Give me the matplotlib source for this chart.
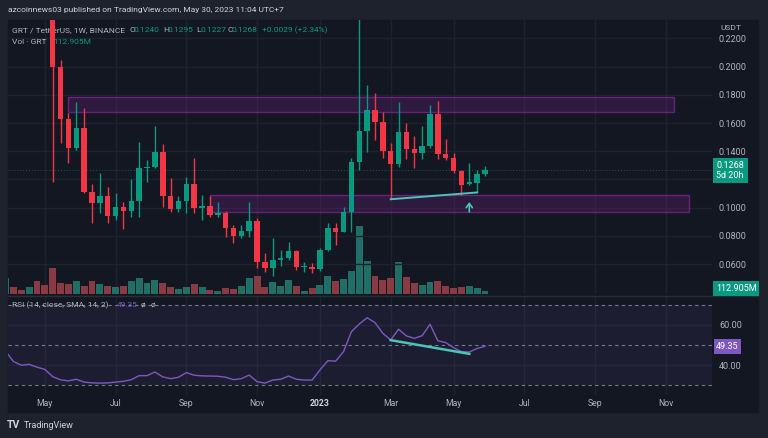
import numpy as np
import pandas as pd
import matplotlib
matplotlib.use("Agg")
import matplotlib.pyplot as plt
from matplotlib.patches import Rectangle
from matplotlib.lines import Line2D
import matplotlib.transforms as mtrans

plt.rcParams['font.family'] = ['Roboto', 'DejaVu Sans']

# ---- data (GRT/USDT weekly) ----
weeks = pd.date_range('2022-03-28', periods=62, freq='7D')

opens = [0.430, 0.452, 0.405, 0.372, 0.392, 0.315,
         0.272, 0.200, 0.163, 0.1426, 0.1563, 0.1113, 0.1031, 0.1083, 0.0943, 0.1003,
         0.0977, 0.1047, 0.1280, 0.1288, 0.1395, 0.1085, 0.0993, 0.1045, 0.1168, 0.1000,
         0.1014, 0.0946, 0.0962, 0.0858, 0.0801, 0.0837, 0.0906, 0.0615, 0.0570, 0.0629,
         0.0645, 0.0695, 0.0577, 0.0580, 0.0565, 0.0700, 0.0854, 0.0830, 0.0967, 0.1326,
         0.1544, 0.1693, 0.1606, 0.1404, 0.1310, 0.1539, 0.1416, 0.1386, 0.1438, 0.1665,
         0.1381, 0.1355, 0.1262, 0.1168, 0.1176, 0.1240]
closes = [0.452, 0.405, 0.372, 0.392, 0.315, 0.272,
          0.200, 0.163, 0.1426, 0.1563, 0.1113, 0.1031, 0.1083, 0.0943, 0.1003, 0.0977,
          0.1047, 0.1280, 0.1288, 0.1395, 0.1085, 0.0993, 0.1045, 0.1168, 0.1000, 0.1014,
          0.0946, 0.0962, 0.0858, 0.0801, 0.0837, 0.0906, 0.0615, 0.0570, 0.0629, 0.0645,
          0.0695, 0.0577, 0.0586, 0.0565, 0.0700, 0.0854, 0.0830, 0.0967, 0.1326, 0.1544,
          0.1693, 0.1606, 0.1404, 0.1310, 0.1539, 0.1416, 0.1386, 0.1438, 0.1665, 0.1381,
          0.1355, 0.1262, 0.1163, 0.1180, 0.1239, 0.1268]
highs = [0.470, 0.460, 0.420, 0.400, 0.400, 0.330,
         0.285, 0.2047, 0.167, 0.1752, 0.1707, 0.1168, 0.1246, 0.1149, 0.1106, 0.1043,
         0.1201, 0.1464, 0.1338, 0.1580, 0.1450, 0.1213, 0.1083, 0.1220, 0.1350, 0.1090,
         0.1083, 0.1038, 0.0980, 0.0877, 0.0877, 0.1043, 0.0925, 0.0679, 0.0783, 0.0700,
         0.0759, 0.0702, 0.0617, 0.0605, 0.0712, 0.0889, 0.0889, 0.1007, 0.1350, 0.2450,
         0.1870, 0.1811, 0.1680, 0.1457, 0.1752, 0.1600, 0.1509, 0.1580, 0.1728, 0.1759,
         0.1485, 0.1390, 0.1270, 0.1319, 0.1267, 0.1295]
lows = [0.420, 0.395, 0.360, 0.365, 0.300, 0.262,
        0.1184, 0.1460, 0.1315, 0.1410, 0.1105, 0.0894, 0.0965, 0.0894, 0.0913, 0.0849,
        0.0936, 0.0935, 0.1180, 0.1280, 0.1007, 0.0970, 0.0970, 0.0962, 0.0960, 0.0913,
        0.0935, 0.0935, 0.0794, 0.0752, 0.0785, 0.0794, 0.0570, 0.0546, 0.0516, 0.0589,
        0.0630, 0.0558, 0.0546, 0.0539, 0.0553, 0.0690, 0.0735, 0.0830, 0.0830, 0.1267,
        0.1397, 0.1480, 0.1350, 0.1060, 0.1290, 0.1343, 0.1280, 0.1343, 0.1420, 0.1343,
        0.1340, 0.1245, 0.1088, 0.1160, 0.1113, 0.1227]
volume_m = [600, 250, 150, 275, 500, 350,
            965, 425, 385, 500, 310, 500, 375, 310, 250, 310,
            475, 590, 400, 540, 415, 275, 190, 275, 375, 275,
            160, 125, 215, 190, 310, 600, 660, 250, 440, 310,
            525, 310, 125, 215, 340, 690, 500, 555, 855, 2570,
            1250, 690, 525, 600, 1190, 650, 400, 350, 465, 500,
            310, 215, 250, 310, 215, 112.905]
rsi = [47.0, 41.8, 40.0, 40.4, 39.0, 37.9,
       34.3, 32.7, 32.2, 33.0, 31.6, 31.2, 31.1, 31.2, 31.6, 32.0,
       32.8, 34.8, 34.8, 36.6, 34.2, 33.3, 34.0, 36.3, 35.0, 34.7,
       34.6, 34.5, 34.0, 32.8, 33.3, 35.1, 31.8, 31.1, 32.6, 33.0,
       34.6, 33.0, 32.6, 32.6, 37.6, 42.2, 42.0, 46.7, 56.6, 60.4,
       63.5, 61.1, 55.8, 52.5, 57.8, 54.5, 53.3, 54.6, 60.3, 52.1,
       51.2, 48.7, 46.7, 46.5, 48.3, 49.35]

month_starts = ['2022-05', '2022-07', '2022-09', '2022-11', '2023-01',
                '2023-03', '2023-05', '2023-07', '2023-09', '2023-11']
month_labels = ['May', 'Jul', 'Sep', 'Nov', '2023', 'Mar', 'May', 'Jul', 'Sep', 'Nov']
price_ticks = [0.06, 0.08, 0.10, 0.12, 0.14, 0.16, 0.18, 0.20, 0.22]
hidden_ticks = [0.12]  # covered by the last-price badge
rsi_ticks = [40, 60]

# drawn zones (week index from, week index to, low, high)
zone_top = (8, 85, 0.1681, 0.1783)
zone_bottom = (26, 87, 0.0972, 0.1087)
price_trend = ([49, 60], [0.1060, 0.1108])
rsi_trend = ([49, 59], [52.4, 45.6])

BG = '#131722'
OUTER = '#1e222d'
UP = '#089981'
DOWN = '#f23645'
TXT = '#b2b5be'
GRID = '#1e222d'
PURPLE = '#7e57c2'
TREND = '#4cc4b8'

W, H = 768, 438


def P(x, y):
    return x / W, 1 - y / H


def rect(x0, y0, x1, y1):
    return [x0 / W, 1 - y1 / H, (x1 - x0) / W, (y1 - y0) / H]


o = np.array(opens); c = np.array(closes)
hi = np.array(highs); lo = np.array(lows)
x = np.arange(len(o))
up = c >= o
col = np.where(up, UP, DOWN)
vcol = np.where(up, '#1f6f66', '#8a3a42')

tick_pos = []
for s in month_starts:
    d = pd.Timestamp(s + '-01')
    d = d + pd.Timedelta(days=(7 - d.weekday()) % 7)
    tick_pos.append((d - weeks[0]).days / 7)

fig = plt.figure(figsize=(7.68, 4.38), dpi=100, facecolor=OUTER)
fig.patches.append(Rectangle((8 / W, 1 - 412 / H), 750 / W, 392 / H,
                             transform=fig.transFigure, color=BG, zorder=-10))

xlim = (0.31, 89.88)

# volume pane (behind price)
axv = fig.add_axes(rect(8, 20, 712, 294))
axv.patch.set_visible(False)
axv.bar(x, volume_m, width=0.88, color=vcol, zorder=2)
axv.set_ylim(0, 274 * 37.6)
axv.set_xlim(*xlim)
for t in tick_pos:
    axv.axvline(t, color=GRID, lw=1, zorder=0)
axv.axis('off')

# price pane
ax = fig.add_axes(rect(8, 20, 712, 294), sharex=axv)
ax.patch.set_visible(False)
for t in price_ticks:
    ax.axhline(t, color=GRID, lw=1, zorder=0)
ax.vlines(x, lo, hi, color=col, lw=1, zorder=3)
body = np.maximum(np.abs(c - o), 0.0008)
ax.bar(x, body, bottom=np.minimum(o, c), width=0.7, color=col, zorder=4)
ax.set_ylim(0.0388, 0.2331)
ax.set_xlim(*xlim)
for z in (zone_top, zone_bottom):
    ax.add_patch(Rectangle((z[0], z[2]), z[1] - z[0], z[3] - z[2],
                           facecolor='#9c27b0', alpha=0.2, edgecolor='none', zorder=2))
    ax.add_patch(Rectangle((z[0], z[2]), z[1] - z[0], z[3] - z[2],
                           facecolor='none', edgecolor='#9c27b0', alpha=0.6, lw=1, zorder=2))
ax.plot(price_trend[0], price_trend[1], color=TREND, lw=1.4, zorder=5)
ax.annotate('', xy=(59, 0.1040), xytext=(59, 0.0970),
            arrowprops=dict(arrowstyle='->,head_length=0.3,head_width=0.22',
                            color=TREND, lw=1.2, shrinkA=0, shrinkB=0), zorder=5)
ax.axhline(c[-1], color=UP, lw=0.7, ls=(0, (1, 2)), alpha=0.5, zorder=1)
ax.set_yticks(price_ticks)
ax.set_yticklabels(['' if t in hidden_ticks else '%.4f' % t for t in price_ticks])
ax.yaxis.set_ticks_position('right')
ax.tick_params(axis='y', length=0, pad=5, labelsize=6.5, labelcolor=TXT)
ax.tick_params(axis='x', bottom=False, labelbottom=False)
for sp in ax.spines.values():
    sp.set_visible(False)

# legend text (under the candles)
ftr = fig.transFigure
ax.text(*P(12, 30), 'GRT / TetherUS, 1W, BINANCE', transform=ftr, color=TXT,
        fontsize=6, va='center', zorder=1)
parts = [('O', 129), ('%.4f' % o[-1], 133.5), ('H', 163.5), ('%.4f' % hi[-1], 168),
         ('L', 196.5), ('%.4f' % lo[-1], 200.5), ('C', 227.5), ('%.4f' % c[-1], 232)]
for i, (s, px) in enumerate(parts):
    ax.text(*P(px, 30), s, transform=ftr, color=TXT if i % 2 == 0 else UP,
            fontsize=6, va='center', zorder=1)
chg = c[-1] - c[-2]
ax.text(*P(262, 30), '%+.4f (%+.2f%%)' % (chg, chg / c[-2] * 100), transform=ftr,
        color=UP, fontsize=6, va='center', zorder=1)
ax.text(*P(12, 42), 'Vol · GRT', transform=ftr, color=TXT, fontsize=6, va='center', zorder=1)
ax.text(*P(53, 42), '%.3fM' % volume_m[-1], transform=ftr, color=UP, fontsize=6,
        va='center', zorder=1)

# RSI pane
axr = fig.add_axes(rect(8, 297, 712, 395), sharex=axv)
axr.patch.set_visible(False)
for t in tick_pos:
    axr.axvline(t, color=GRID, lw=1, zorder=0)
for t in rsi_ticks:
    axr.axhline(t, color=GRID, lw=1, zorder=0)
axr.axhspan(30, 70, color=PURPLE, alpha=0.1, lw=0, zorder=1)
for lvl in (70, 50, 30):
    axr.axhline(lvl, color='#787b86', lw=0.8, ls=(0, (3, 3)), zorder=2)
axr.plot(x, rsi, color=PURPLE, lw=1, zorder=3)
axr.plot(rsi_trend[0], rsi_trend[1], color=TREND, lw=1.8, zorder=4)
axr.set_ylim(25.2, 73.8)
axr.set_xlim(*xlim)
axr.set_yticks(rsi_ticks)
axr.set_yticklabels(['%.2f' % t for t in rsi_ticks])
axr.yaxis.set_ticks_position('right')
axr.tick_params(axis='y', length=0, pad=5, labelsize=6.5, labelcolor=TXT)
axr.tick_params(axis='x', bottom=False, labelbottom=False)
for sp in axr.spines.values():
    sp.set_visible(False)
axr.text(*P(12, 305), 'RSI (14, close, SMA, 14, 2)', transform=ftr, color=TXT,
         fontsize=6, va='center')
axr.text(*P(117, 305), '%.2f' % rsi[-1], transform=ftr, color=PURPLE, fontsize=6, va='center')
axr.text(*P(141, 305), 'ø', transform=ftr, color=TXT, fontsize=6, va='center')
axr.text(*P(151, 305), 'ø', transform=ftr, color=TXT, fontsize=6, va='center')

# pane separator
fig.add_artist(Line2D([8 / W, 758 / W], [1 - 295.5 / H] * 2, color='#2a2e39', lw=1))

# time axis labels
bt = mtrans.blended_transform_factory(axr.transData, fig.transFigure)
for t, lab in zip(tick_pos, month_labels):
    bold = lab.isdigit()
    axr.text(t, 1 - 404 / H, lab, transform=bt, ha='center', va='center',
             fontsize=6.2, color='#d1d4dc' if bold else TXT,
             fontweight='bold' if bold else 'normal', clip_on=False)

# axis badges
bp = mtrans.blended_transform_factory(ax.transAxes, ax.transData)
ax.text(1.006, c[-1] - 0.0004, '%.4f\n5d 20h' % c[-1], transform=bp, color='white',
        fontsize=6.5, va='center', ha='left', linespacing=1.1, clip_on=False, zorder=6,
        bbox=dict(boxstyle='square,pad=0.4', fc=UP, ec='none'))
br = mtrans.blended_transform_factory(axr.transAxes, axr.transData)
axr.text(1.006, rsi[-1], '%.2f' % rsi[-1], transform=br, color='white', fontsize=6.5,
         va='center', ha='left', clip_on=False, zorder=6,
         bbox=dict(boxstyle='square,pad=0.3', fc=PURPLE, ec='none'))
fig.text(*P(716, 288.5), '%.3fM' % volume_m[-1], color='white', fontsize=6.5, va='center',
         bbox=dict(boxstyle='square,pad=0.3', fc=UP, ec='none'))
fig.text(*P(720, 28), 'USDT', color=TXT, fontsize=6, va='center',
         bbox=dict(boxstyle='square,pad=0.5', fc=BG, ec='none'))

# header and footer
fig.text(*P(8, 10), 'azcoinnews03 published on TradingView.com, May 30, 2023 11:04 UTC+7',
         color='#d1d4dc', fontsize=6, va='center')
fig.text(*P(7, 425.5), 'TV', color='#d1d4dc', fontsize=7.5, fontweight='bold', va='center')
fig.text(*P(24, 425.5), 'TradingView', color='#d1d4dc', fontsize=6.5, va='center')

fig.savefig('out.png', dpi=100, facecolor=OUTER)
